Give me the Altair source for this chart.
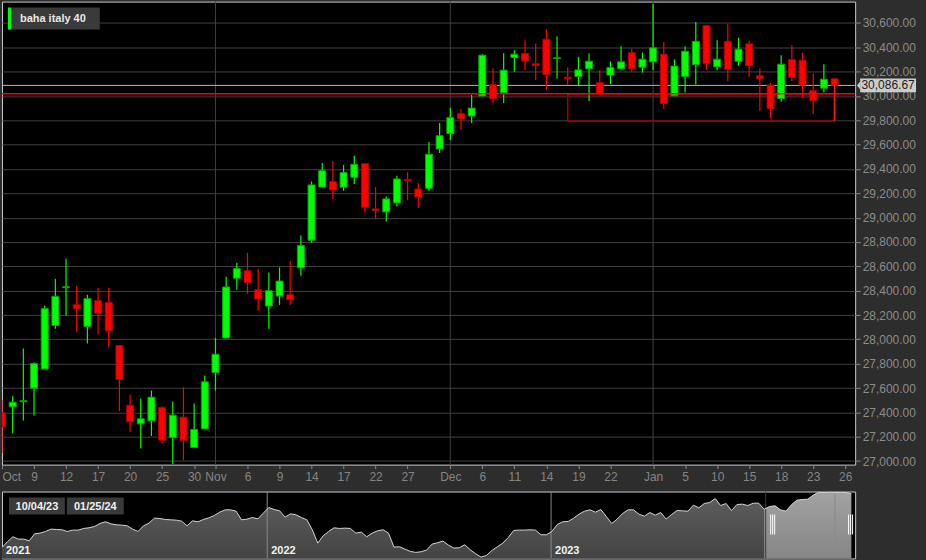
import altair as alt
import pandas as pd

FONT = "Liberation Sans"

# ---------------- main candles (trading days) ----------------
dates = [
    "2023-10-04", "2023-10-05", "2023-10-06", "2023-10-09", "2023-10-10", "2023-10-11", "2023-10-12",
    "2023-10-13", "2023-10-16", "2023-10-17", "2023-10-18", "2023-10-19", "2023-10-20", "2023-10-23",
    "2023-10-24", "2023-10-25", "2023-10-26", "2023-10-27", "2023-10-30", "2023-10-31",
    "2023-11-01", "2023-11-02", "2023-11-03", "2023-11-06", "2023-11-07", "2023-11-08", "2023-11-09",
    "2023-11-10", "2023-11-13", "2023-11-14", "2023-11-15", "2023-11-16", "2023-11-17", "2023-11-20",
    "2023-11-21", "2023-11-22", "2023-11-23", "2023-11-24", "2023-11-27", "2023-11-28", "2023-11-29",
    "2023-11-30",
    "2023-12-01", "2023-12-04", "2023-12-05", "2023-12-06", "2023-12-07", "2023-12-08", "2023-12-11",
    "2023-12-12", "2023-12-13", "2023-12-14", "2023-12-15", "2023-12-18", "2023-12-19", "2023-12-20",
    "2023-12-21", "2023-12-22", "2023-12-27", "2023-12-28", "2023-12-29",
    "2024-01-02", "2024-01-03", "2024-01-04", "2024-01-05", "2024-01-08", "2024-01-09", "2024-01-10",
    "2024-01-11", "2024-01-12", "2024-01-15", "2024-01-16", "2024-01-17", "2024-01-18", "2024-01-19",
    "2024-01-22", "2024-01-23", "2024-01-24", "2024-01-25",
]
opens = [
    27396, 27446, 27488, 27599, 27757, 28115, 28425, 28285, 28107, 28318,
    28304, 27949, 27459, 27306, 27331, 27440, 27194, 27361, 27112, 27265,
    27727, 28011, 28503, 28564, 28408, 28274, 28356, 28367, 28588, 28815,
    29252, 29296, 29250, 29332, 29444, 29072, 29047, 29121, 29315, 29236,
    29242, 29564, 29692, 29854, 29835, 29999, 30094, 30029, 30316, 30348,
    30264, 30466, 30307, 30154, 30160, 30223, 30111, 30171, 30223, 30354,
    30236, 30280, 30343, 30001, 30160, 30258, 30578, 30239, 30449, 30285,
    30428, 30165, 30089, 29979, 30299, 30294, 30042, 30064, 30141,
]
highs = [
    27500, 27533, 27924, 27812, 28279, 28498, 28662, 28441, 28367, 28421,
    28421, 27949, 27547, 27514, 27580, 27451, 27489, 27607, 27473, 27703,
    28011, 28514, 28629, 28711, 28580, 28550, 28591, 28645, 28853, 29296,
    29449, 29466, 29433, 29509, 29444, 29252, 29173, 29345, 29373, 29285,
    29621, 29777, 29903, 29892, 30010, 30343, 30228, 30351, 30376, 30458,
    30430, 30548, 30490, 30234, 30321, 30348, 30212, 30285, 30408, 30389,
    30356, 30758, 30444, 30299, 30408, 30608, 30578, 30458, 30594, 30477,
    30455, 30225, 30108, 30335, 30417, 30354, 30184, 30261, 30141,
]
lows = [
    27066, 27227, 27334, 27375, 27757, 28088, 28195, 28058, 27965, 28039,
    27935, 27410, 27241, 27104, 27205, 27145, 26973, 27006, 27112, 27265,
    27580, 28011, 28408, 28375, 28236, 28088, 28285, 28285, 28523, 28795,
    29250, 29154, 29220, 29277, 29045, 28990, 28968, 29091, 29143, 29080,
    29220, 29531, 29638, 29722, 29777, 29999, 29941, 29941, 30198, 30212,
    30130, 30048, 30143, 30091, 30089, 29958, 30020, 30097, 30220, 30198,
    30193, 30212, 29892, 29999, 30029, 30094, 30212, 30212, 30122, 30247,
    30157, 29878, 29815, 29952, 30122, 29985, 29851, 30029, 30080,
]
closes = [
    27281, 27484, 27496, 27801, 28252, 28353, 28432, 28252, 28334, 28214,
    28069, 27670, 27323, 27347, 27525, 27172, 27377, 27172, 27260, 27651,
    27878, 28430, 28580, 28468, 28331, 28400, 28479, 28326, 28771, 29269,
    29386, 29228, 29370, 29438, 29086, 29058, 29154, 29318, 29304, 29168,
    29520, 29673, 29821, 29813, 29900, 30335, 29979, 30212, 30343, 30288,
    30250, 30176, 30313, 30141, 30214, 30285, 30020, 30234, 30280, 30225,
    30302, 30395, 29938, 30245, 30367, 30449, 30266, 30302, 30220, 30384,
    30250, 30143, 29897, 30261, 30152, 30089, 29960, 30138, 30086.67,
]

tick_idx = [0, 3, 6, 9, 12, 15, 18, 20, 23, 26, 29, 32, 35, 38, 42, 45, 48, 51, 54, 57,
            61, 64, 67, 70, 73, 76, 79]
tick_labels = ["Oct", "9", "12", "17", "20", "25", "30", "Nov", "6", "9", "14", "17", "22", "27",
               "Dec", "6", "11", "14", "19", "22", "Jan", "5", "10", "15", "18", "23", "26"]
month_idx = [20, 42, 61]
y_ticks = [27000, 27200, 27400, 27600, 27800, 28000, 28200, 28400, 28600, 28800, 29000,
           29200, 29400, 29600, 29800, 30000, 30200, 30400, 30600]

instrument = "baha italy 40"
last_price = 30086.67
support_level = 30018
zone_low = 29795
zone_start_idx = 53
zone_end_idx = 78

# ---------------- navigator (weekly closes) ----------------
nav_start = "2021-01-25"
nav_values = [
    22150, 22964, 23683, 23348, 23348, 23108, 24114, 24210, 24450, 24785,
    24737, 24689, 24450, 24641, 24641, 24881, 24977, 25169, 25600, 25839,
    25552, 25408, 25360, 25264, 24785, 24450, 25264, 25648, 26367, 26319,
    26175, 26127, 26079, 25935, 25264, 25983, 25839, 26175, 26414, 26750,
    27229, 27565, 27565, 27373, 26127, 26223, 26462, 26271, 27085, 27900,
    27613, 27421, 26510, 26990, 26846, 26462, 26127, 24689, 22773, 23827,
    24450, 24977, 24881, 24929, 24881, 24210, 24354, 23683, 24210, 24546,
    24689, 24210, 22198, 22246, 21910, 21575, 21431, 21527, 21766, 22629,
    22821, 23060, 22485, 22054, 22102, 22533, 21814, 21239, 20760, 20999,
    21718, 22246, 22773, 23587, 24593, 24641, 24641, 24689, 24641, 23971,
    23971, 24450, 25456, 25839, 25887, 26367, 26942, 27373, 27565, 27229,
    27613, 26606, 25600, 26223, 27037, 27565, 27565, 26942, 26654, 27181,
    26798, 27181, 26223, 26894, 27469, 27421, 27373, 28236, 27852, 28475,
    28619, 29194, 28188, 28475, 27469, 28331, 28379, 28188, 28523, 28523,
    27660, 28044, 28140, 27565, 27373, 28283, 28954, 29050, 29098, 29673,
    30104, 30056, 30104, 30056, 30104, 30056, 29913,
]
year_line_dates = ["2022-01-01", "2023-01-01", "2024-01-01"]
year_labels = ["2021", "2022", "2023"]
year_label_dates = ["2021-01-25", "2022-01-01", "2023-01-01"]
sel_from = "2023-10-02"
sel_start_label = "10/04/23"
sel_end_label = "01/25/24"

# ---------------- data frames ----------------
cdf = pd.DataFrame({"date": dates, "open": opens, "high": highs, "low": lows, "close": closes})
cdf["i"] = range(len(cdf))
cdf["dir"] = ["up" if c >= o else "down" for o, c in zip(opens, closes)]

nav_df = pd.DataFrame({"date": pd.date_range(nav_start, periods=len(nav_values), freq="7D"),
                       "value": nav_values})
nav_sel = nav_df[nav_df["date"] >= pd.Timestamp(sel_from)]
years_df = pd.DataFrame({"d": pd.to_datetime(year_line_dates)})
ylab_df = pd.DataFrame({"d": pd.to_datetime(year_label_dates), "label": year_labels})
one = pd.DataFrame({"a": [0]})

# ---------------- scales / axes ----------------
W, H = 855, 464
xs = alt.Scale(domain=[0, 79.93], nice=False, zero=False, padding=0)
ys = alt.Scale(domain=[26971, 30775], nice=False, zero=False)

label_expr = "[" + ",".join("'%s'" % t for t in tick_labels) + "][indexof([" + \
    ",".join(str(v) for v in tick_idx) + "], datum.value)]"
x_axis = alt.Axis(values=tick_idx, labelExpr=label_expr, grid=False, domain=False,
                  tickSize=4, tickColor="#8a8a8a", labelColor="#858585", labelFontSize=12,
                  labelFont=FONT, labelPadding=3, labelFlush=True, labelOverlap=False, title=None)
y_axis = alt.Axis(orient="right", values=y_ticks, format=",.2f", grid=True, gridColor="#404040",
                  gridWidth=1, domain=False, tickSize=5, tickColor="#8a8a8a", labelColor="#8c8c8c",
                  labelFontSize=12, labelFont=FONT, labelPadding=2, title=None)

dir_fill = alt.Scale(domain=["up", "down"], range=["#00ff00", "#ff0000"])
dir_stroke = alt.Scale(domain=["up", "down"], range=["#00a800", "#b00000"])

month_rules = alt.Chart(pd.DataFrame({"i": month_idx})).mark_rule(
    color="#404040", strokeWidth=1).encode(x=alt.X("i:Q", scale=xs, axis=x_axis))

price_rule = alt.Chart(one).mark_rule(color="#b8b8b8", strokeWidth=1).encode(
    y=alt.YDatum(last_price, scale=ys, axis=y_axis))
support_rule = alt.Chart(one).mark_rule(color="#ff0000", strokeWidth=1.5).encode(
    y=alt.YDatum(support_level, scale=ys, axis=y_axis))
zone_rect = alt.Chart(one).mark_rect(fillOpacity=0, stroke="#a00000", strokeWidth=1.5).encode(
    x=alt.XDatum(zone_start_idx, scale=xs, axis=x_axis), x2=alt.X2Datum(zone_end_idx),
    y=alt.YDatum(zone_low, scale=ys, axis=y_axis), y2=alt.Y2Datum(support_level))
zone_edge = alt.Chart(one).mark_rule(color="#ff1a1a", strokeWidth=1.5).encode(
    x=alt.XDatum(zone_end_idx, scale=xs, axis=x_axis),
    y=alt.YDatum(zone_low, scale=ys, axis=y_axis), y2=alt.Y2Datum(last_price))

wicks = alt.Chart(cdf).mark_rule(strokeWidth=1.2, clip=True).encode(
    x=alt.X("i:Q", scale=xs, axis=x_axis),
    y=alt.Y("low:Q", scale=ys, axis=y_axis), y2="high:Q",
    color=alt.Color("dir:N", scale=dir_fill, legend=None))
bodies = alt.Chart(cdf).mark_bar(size=7, strokeWidth=1, clip=True).encode(
    x=alt.X("i:Q", scale=xs, axis=x_axis),
    y=alt.Y("open:Q", scale=ys, axis=y_axis), y2="close:Q",
    fill=alt.Fill("dir:N", scale=dir_fill, legend=None),
    stroke=alt.Stroke("dir:N", scale=dir_stroke, legend=None))

legend_bg = alt.Chart(one).mark_rect(fill="#3a3a3a").encode(
    x=alt.value(6), x2=alt.value(98), y=alt.value(6), y2=alt.value(28))
legend_bar = alt.Chart(one).mark_rect(fill="#00ff00").encode(
    x=alt.value(6), x2=alt.value(9), y=alt.value(6), y2=alt.value(28))
legend_text = alt.Chart(one).mark_text(font=FONT, fontSize=11, fontWeight="bold", color="#e8e8e8",
                                       align="left", baseline="middle").encode(
    x=alt.value(18), y=alt.value(17.5), text=alt.value(instrument))

label_rect = alt.Chart(one).mark_rect(fill="#cccccc", yOffset=-7, y2Offset=7).encode(
    x=alt.value(860), x2=alt.value(916),
    y=alt.YDatum(last_price, scale=ys, axis=y_axis), y2=alt.Y2Datum(last_price))
label_tri = alt.Chart(one).mark_point(shape="M -0.8 0 L 0 -1 L 0 1 Z", size=64, filled=True,
                                      fill="#cccccc", opacity=1, strokeWidth=0).encode(
    x=alt.value(860), y=alt.YDatum(last_price, scale=ys, axis=y_axis))
label_text = alt.Chart(one).mark_text(font=FONT, fontSize=12, color="#1e1e1e",
                                      align="center", baseline="middle").encode(
    x=alt.value(888), y=alt.YDatum(last_price, scale=ys, axis=y_axis),
    text=alt.value(f"{last_price:,.2f}"))

main = alt.layer(month_rules, price_rule, zone_rect, wicks, bodies, support_rule, zone_edge,
                 legend_bg, legend_bar, legend_text, label_rect, label_tri, label_text
                 ).properties(width=W, height=H)

# ---------------- navigator ----------------
NH = 67
nx = alt.Scale(domain=[alt.DateTime(year=2021, month=1, date=25),
                       alt.DateTime(year=2024, month=1, date=27)], nice=False)
ny = alt.Scale(domain=[20568, 30200], nice=False, zero=False)

grad_dark = alt.Gradient(gradient="linear", x1=0, x2=0, y1=0, y2=1,
                         stops=[alt.GradientStop(color="#606060", offset=0),
                                alt.GradientStop(color="#050505", offset=1)])
grad_light = alt.Gradient(gradient="linear", x1=0, x2=0, y1=0, y2=1,
                          stops=[alt.GradientStop(color="#a2a2a2", offset=0),
                                 alt.GradientStop(color="#484848", offset=1)])

nav_area = alt.Chart(nav_df).mark_area(fill=grad_dark, clip=True).encode(
    x=alt.X("date:T", scale=nx, axis=None), y=alt.Y("value:Q", scale=ny, axis=None),
    y2=alt.value(NH))
sel_area = alt.Chart(nav_sel).mark_area(fill=grad_light, clip=True).encode(
    x=alt.X("date:T", scale=nx, axis=None), y=alt.Y("value:Q", scale=ny, axis=None),
    y2=alt.value(NH))
year_rules = alt.Chart(years_df).mark_rule(color="#8a8a8a", strokeWidth=1).encode(
    x=alt.X("d:T", scale=nx, axis=None))
sel_rule = alt.Chart(one).mark_rule(color="#3a3a3a", strokeWidth=1).encode(
    x=alt.XDatum(alt.DateTime(year=2023, month=10, date=4), scale=nx, axis=None))
nav_line = alt.Chart(nav_df).mark_line(color="#d4d4d4", strokeWidth=1, clip=True).encode(
    x=alt.X("date:T", scale=nx, axis=None), y=alt.Y("value:Q", scale=ny, axis=None))
year_text = alt.Chart(ylab_df).mark_text(font=FONT, fontSize=11, fontWeight="bold", color="#f2f2f2",
                                         align="left", baseline="alphabetic", dx=4).encode(
    x=alt.X("d:T", scale=nx, axis=None), y=alt.value(63), text="label:N")

handles = []
for off in (5, 7, 9):
    handles.append(alt.Chart(one).mark_rule(color="#ffffff", strokeWidth=1, xOffset=off).encode(
        x=alt.XDatum(alt.DateTime(year=2023, month=10, date=4), scale=nx, axis=None),
        y=alt.value(23), y2=alt.value(43)))
for off in (-5, -3, -1):
    handles.append(alt.Chart(one).mark_rule(color="#ffffff", strokeWidth=1, xOffset=off).encode(
        x=alt.XDatum(alt.DateTime(year=2024, month=1, date=25), scale=nx, axis=None),
        y=alt.value(23), y2=alt.value(43)))

box1 = alt.Chart(one).mark_rect(fill="#3a3a3a").encode(
    x=alt.value(7), x2=alt.value(63), y=alt.value(6), y2=alt.value(23))
box2 = alt.Chart(one).mark_rect(fill="#3a3a3a").encode(
    x=alt.value(65), x2=alt.value(122), y=alt.value(6), y2=alt.value(23))
box1_t = alt.Chart(one).mark_text(font=FONT, fontSize=11, fontWeight="bold", color="#f0f0f0",
                                  align="center", baseline="middle").encode(
    x=alt.value(35), y=alt.value(15), text=alt.value(sel_start_label))
box2_t = alt.Chart(one).mark_text(font=FONT, fontSize=11, fontWeight="bold", color="#f0f0f0",
                                  align="center", baseline="middle").encode(
    x=alt.value(93.5), y=alt.value(15), text=alt.value(sel_end_label))

nav = alt.layer(nav_area, sel_area, year_rules, sel_rule, nav_line, year_text, *handles,
                box1, box2, box1_t, box2_t).properties(width=W, height=NH)

chart = alt.vconcat(main, nav, spacing=27, bounds="flush").properties(
    background="#2d2d2d", padding={"left": 0, "top": 0, "right": 9, "bottom": 1}
).configure_view(fill="#000000", stroke="#c8c8d0", strokeWidth=1)

chart.save("out.html", embed_options={"renderer": "svg", "actions": False})
